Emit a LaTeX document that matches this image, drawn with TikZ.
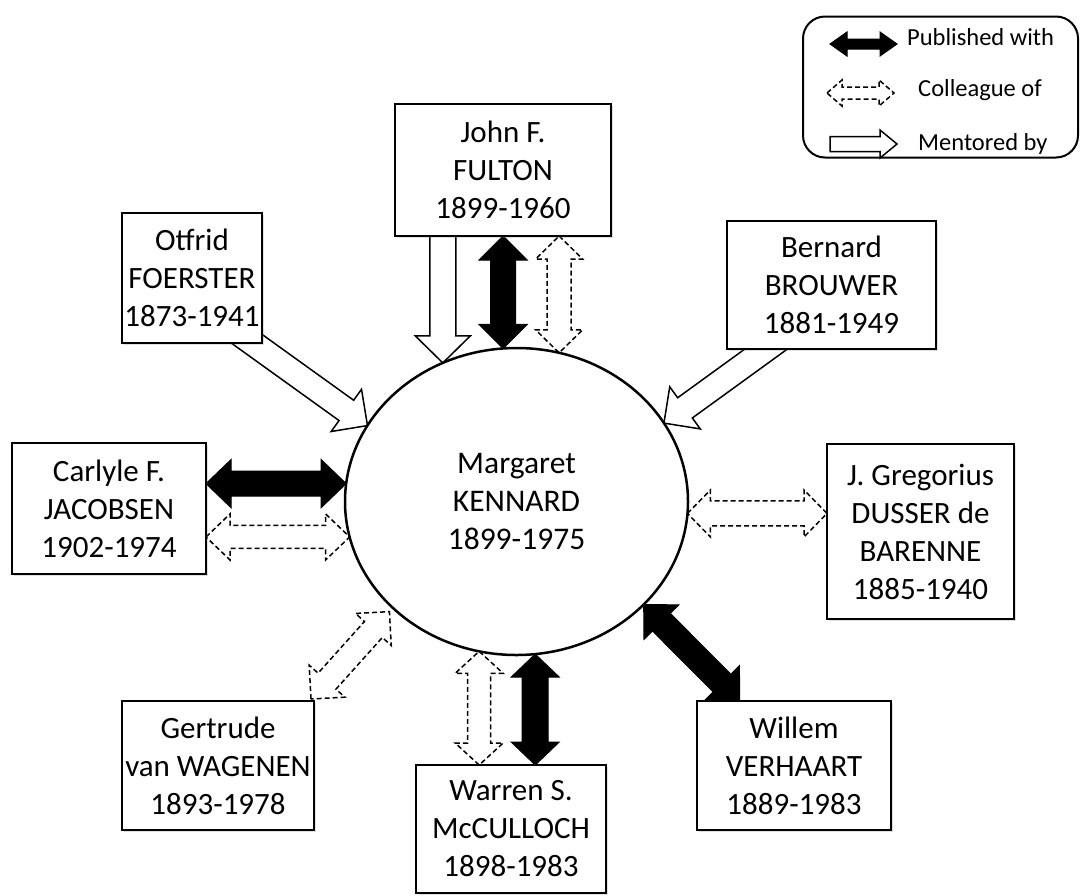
\documentclass[tikz,border=0pt]{standalone}
\usepackage{fontspec}
\setmainfont{Carlito}
\usetikzlibrary{shapes.geometric,calc,backgrounds,shadows}
\tikzset{
  % person boxes and the central ellipse
  person/.style = {rectangle, draw=black, line width=1.8pt, fill=white, align=center,
                   inner sep=0pt, outer sep=0pt, font=\fontsize{31}{38}\selectfont,
                   drop shadow={shadow xshift=1.5pt, shadow yshift=-1.5pt, opacity=0.25}},
  hub/.style    = {ellipse, draw=black, line width=2.5pt, fill=white, align=center,
                   inner sep=0pt, outer sep=0pt, font=\fontsize{31.5}{38}\selectfont,
                   minimum width=343pt, minimum height=307pt},
  legend/.style = {rectangle, draw=black, line width=2pt, rounded corners=22pt,
                   minimum width=275pt, minimum height=141pt, inner sep=0pt},
  legtxt/.style = {anchor=base west, inner sep=0pt, font=\fontsize{24.5}{29}\selectfont},
  % block arrows
  pub/.style    = {draw=black, fill=black, line width=1pt},
  coll/.style   = {draw=black, fill=white, line width=1.5pt, dash pattern=on 5pt off 3pt},
  ment/.style   = {draw=black, fill=white, line width=1.5pt},
}
% double block arrow: [style]{from}{to}{shaft half width}{head half width}{head length}
\newcommand{\dblarrow}[6][]{%
  \draw[#1] let \p1=(#2), \p2=(#3), \n1={atan2(\y2-\y1,\x2-\x1)},
    \n2={veclen(\x2-\x1,\y2-\y1)} in [shift={(\p1)}, rotate=\n1]
    (0pt,0pt) -- (#6,#5) -- (#6,#4) -- ({\n2*1pt-#6},#4) -- ({\n2*1pt-#6},#5)
    -- ({\n2*1pt},0pt) -- ({\n2*1pt-#6},-#5) -- ({\n2*1pt-#6},-#4) -- (#6,-#4)
    -- (#6,-#5) -- cycle;}
% single block arrow, tip at the second point
\newcommand{\sglarrow}[6][]{%
  \draw[#1] let \p1=(#2), \p2=(#3), \n1={atan2(\y2-\y1,\x2-\x1)},
    \n2={veclen(\x2-\x1,\y2-\y1)} in [shift={(\p1)}, rotate=\n1]
    (0pt,#4) -- ({\n2*1pt-#6},#4) -- ({\n2*1pt-#6},#5) -- ({\n2*1pt},0pt)
    -- ({\n2*1pt-#6},-#5) -- ({\n2*1pt-#6},-#4) -- (0pt,-#4) -- cycle;}

\begin{document}
\begin{tikzpicture}[x=1pt,y=-1pt]
\useasboundingbox (0,0) rectangle (1083,895);
% centre
\node[hub] (kennard) at (516.5,501.5) {Margaret\\KENNARD\\1899-1975};
% people
\node[person, minimum width=216pt, minimum height=132pt] (fulton)    at (503,170)    {John F.\\FULTON\\1899-1960};
\node[person, minimum width=140pt, minimum height=130pt] (foerster)  at (192,278)    {Otfrid\\FOERSTER\\1873-1941};
\node[person, minimum width=209pt, minimum height=128pt] (brouwer)   at (831.5,285)  {Bernard\\BROUWER\\1881-1949};
\node[person, minimum width=194pt, minimum height=131pt] (jacobsen)  at (109,508.5)  {Carlyle F.\\JACOBSEN\\1902-1974};
\node[person, minimum width=187pt, minimum height=175pt] (dusser)    at (920.5,531.5) {J. Gregorius\\DUSSER de\\BARENNE\\1885-1940};
\node[person, minimum width=192pt, minimum height=129pt] (gertrude)  at (218,765.5)  {Gertrude\\van WAGENEN\\1893-1978};
\node[person, minimum width=190pt, minimum height=128pt] (mcculloch) at (511,829)    {Warren S.\\McCULLOCH\\1898-1983};
\node[person, minimum width=194pt, minimum height=129pt] (verhaart)  at (794,765.5)  {Willem\\VERHAART\\1889-1983};
% relations
\begin{scope}[on background layer]
  \sglarrow[ment]{fulton.center -| kennard.118}{kennard.118}{13pt}{27.5pt}{27pt}
  \dblarrow[pub]{fulton.south -| kennard.95}{kennard.95}{12.5pt}{24pt}{24pt}
  \dblarrow[coll]{fulton.south -| kennard.74}{kennard.74}{12pt}{23.5pt}{23pt}
  \sglarrow[ment]{$(foerster.south east)+(-40,-22)$}{kennard.153}{12.5pt}{26pt}{26pt}
  \sglarrow[ment]{$(brouwer.south west)+(64,-18)$}{kennard.28}{12.5pt}{26pt}{26pt}
  \dblarrow[pub]{jacobsen.east |- kennard.174}{kennard.174}{12.5pt}{24pt}{25pt}
  \dblarrow[coll]{jacobsen.east |- kennard.192}{kennard.192}{11.5pt}{23pt}{24pt}
  \dblarrow[coll]{kennard.356}{dusser.west |- kennard.356}{12.5pt}{23.5pt}{23pt}
  \dblarrow[coll]{$(gertrude.north east)+(-3,-2)$}{$(kennard.center)+(-127,110)$}{12pt}{24pt}{24pt}
  \dblarrow[coll]{kennard.256}{mcculloch.north -| kennard.256}{11.5pt}{24pt}{22pt}
  \dblarrow[pub]{kennard.277}{mcculloch.north -| kennard.277}{13pt}{24pt}{23pt}
  \dblarrow[pub]{kennard.321}{$(verhaart.north west)+(43,0)$}{12.5pt}{24.5pt}{25pt}
\end{scope}
% legend
\node[legend] (key) at (940.5,87) {};
\node[legtxt] (pubtxt)  at (907,45)  {Published with};
\node[legtxt] (colltxt) at (918,96)  {Colleague of};
\node[legtxt] (menttxt) at (918,150) {Mentored by};
\coordinate (pub-l)  at (830,44);  \coordinate (pub-r)  at (897,44);
\coordinate (coll-l) at (827,93);  \coordinate (coll-r) at (894,93);
\coordinate (ment-l) at (830,144); \coordinate (ment-r) at (897,144);
\dblarrow[pub]{pub-l}{pub-r}{5pt}{12pt}{17pt}
\dblarrow[coll]{coll-l}{coll-r}{6pt}{13pt}{15pt}
\sglarrow[ment]{ment-l}{ment-r}{7.5pt}{14pt}{17pt}
\end{tikzpicture}
\end{document}
